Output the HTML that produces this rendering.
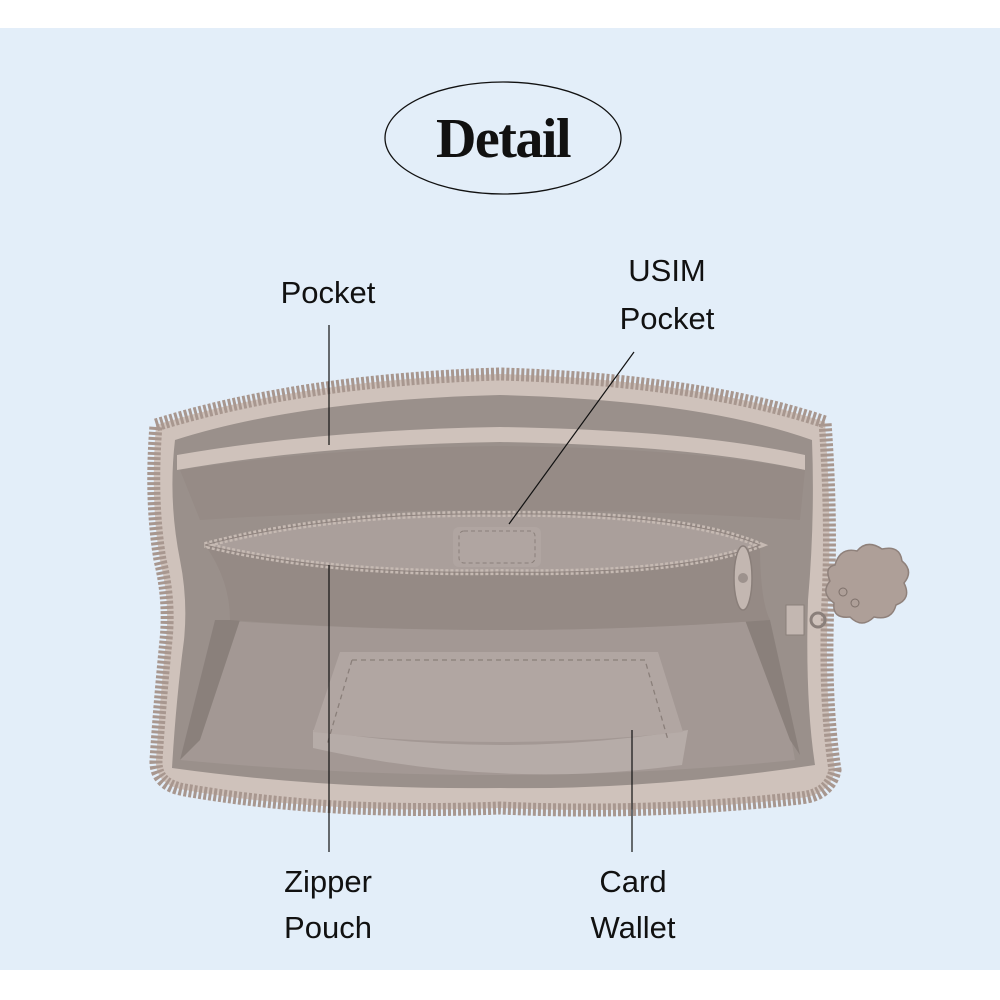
<!DOCTYPE html>
<html><head><meta charset="utf-8"><style>
html,body{margin:0;padding:0;width:1000px;height:1000px;overflow:hidden;background:#fff}
svg{display:block}
</style></head><body>
<svg width="1000" height="1000" viewBox="0 0 1000 1000" xmlns="http://www.w3.org/2000/svg">
<rect x="0" y="28" width="1000" height="942" fill="#e3eef9"/>
<ellipse cx="503" cy="138" rx="118" ry="56" fill="none" stroke="#111" stroke-width="1.3"/>
<text x="503" y="157" text-anchor="middle" font-family="'Liberation Serif',serif" font-weight="bold" font-size="56" fill="#111" letter-spacing="-1.5">Detail</text>

<g font-family="'Liberation Sans',sans-serif" font-size="31" fill="#111" text-anchor="middle">
<text x="328" y="303">Pocket</text>
<text x="667" y="281">USIM</text>
<text x="667" y="329">Pocket</text>
<text x="328" y="892">Zipper</text>
<text x="328" y="938">Pouch</text>
<text x="633" y="892">Card</text>
<text x="633" y="938">Wallet</text>
</g>

<!-- outer zipper -->
<path d="M156,425 Q300,380 500,374 Q700,380 825,422 Q832,520 828,600 Q824,700 835,770 Q830,795 800,798 Q650,815 500,808 Q330,815 185,790 Q155,785 156,760 Q160,700 166,640 Q170,600 160,560 Q150,500 156,425 Z" fill="#cfc2bb" stroke="#a8978f" stroke-width="13" stroke-dasharray="3 2"/>
<!-- interior -->
<path d="M175,440 Q300,400 500,395 Q700,400 812,440 Q815,520 808,600 Q805,700 815,765 Q650,790 500,788 Q330,790 172,768 Q176,700 184,640 Q188,600 180,560 Q168,500 175,440 Z" fill="#9a908b"/>
<!-- top pocket band -->
<path d="M177,455 Q320,430 500,427 Q690,430 805,455 L805,470 Q690,445 500,442 Q320,445 177,470 Z" fill="#cfc2bb"/>
<path d="M180,470 Q320,448 500,446 Q690,448 805,470 L800,520 Q500,500 200,520 Z" fill="#968b86"/>
<!-- bottom lighter -->
<path d="M215,620 Q500,640 770,620 L795,760 Q500,790 180,760 Z" fill="#a39894"/>
<path d="M215,620 L240,620 L200,740 L180,760 Z" fill="#8a807b"/>
<path d="M770,620 L745,620 L790,740 L800,755 Z" fill="#8a807b"/>
<!-- middle pocket -->
<path d="M205,545 Q300,510 500,515 Q700,510 760,545 Q760,600 770,620 Q500,640 230,620 Q230,580 205,545 Z" fill="#958a85"/>
<path d="M205,545 Q330,512 500,514 Q680,512 760,545 Q680,575 500,572 Q330,575 205,545 Z" fill="#aa9f9b" stroke="#c6bab3" stroke-width="6" stroke-dasharray="3 2"/>
<path d="M205,545 Q330,512 500,514 Q680,512 760,545 Q680,575 500,572 Q330,575 205,545 Z" fill="none" stroke="#8f837e" stroke-width="1"/>
<rect x="453" y="527" width="88" height="40" rx="6" fill="#b0a5a1"/>
<rect x="459" y="531" width="76" height="32" rx="5" fill="none" stroke="#8a7f7a" stroke-width="1" stroke-dasharray="4 3"/>
<!-- zipper pull -->
<ellipse cx="743" cy="578" rx="9" ry="32" fill="#c3b7b1" stroke="#8a7f7a" stroke-width="1.5"/>
<circle cx="743" cy="578" r="5" fill="#9d928d"/>
<!-- card wallet -->
<path d="M313,730 Q500,760 688,730 L682,765 Q500,790 313,748 Z" fill="#b6aca8"/>
<path d="M340,652 L658,652 L683,732 Q500,752 313,732 Z" fill="#b1a6a2"/>
<path d="M352,660 L645,660 L668,740 M352,660 L327,745" fill="none" stroke="#8a7f7a" stroke-width="1.3" stroke-dasharray="5 4"/>
<!-- charm -->
<path d="M835,565 q5,-18 22,-14 q10,-12 25,-2 q18,-4 20,12 q12,10 2,22 q8,16 -8,22 q-4,16 -22,12 q-12,12 -24,0 q-18,2 -16,-14 q-14,-10 -4,-22 q-6,-14 5,-16 Z" fill="#ae9f98" stroke="#8f817b" stroke-width="1.5"/>
<circle cx="843" cy="592" r="4" fill="none" stroke="#7d706a"/>
<circle cx="855" cy="603" r="4" fill="none" stroke="#7d706a"/>
<circle cx="818" cy="620" r="7" fill="none" stroke="#8a7f7a" stroke-width="3"/>
<rect x="786" y="605" width="18" height="30" fill="#c3b7b1" stroke="#8a7f7a"/>

<!-- leader lines -->
<g stroke="#111" stroke-width="1.2">
<line x1="329" y1="325" x2="329" y2="445"/>
<line x1="634" y1="352" x2="509" y2="524"/>
<line x1="329" y1="565" x2="329" y2="852"/>
<line x1="632" y1="730" x2="632" y2="852"/>
</g>
</svg>
</body></html>
